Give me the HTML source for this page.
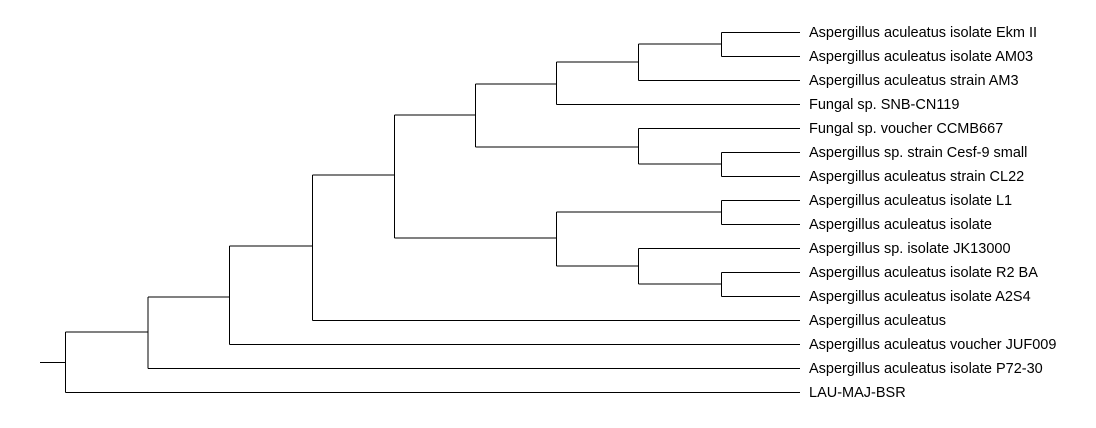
<!DOCTYPE html>
<html><head><meta charset="utf-8"><style>
html,body{margin:0;padding:0;background:#fff;}
svg{display:block}
text{font-family:"Liberation Sans",Arial,sans-serif;font-size:14.5px;fill:#000;dominant-baseline:central}
</style></head><body>
<svg width="1096" height="428" xmlns="http://www.w3.org/2000/svg">
<g stroke="#000" stroke-width="1" fill="none" shape-rendering="crispEdges">
<path d="M40,362.5H65.5 M65.5,332V392.5 M65.5,392.5H800 M65.5,332H148"/>
<path d="M148,297V368.5 M148,368.5H800 M148,297H229.5"/>
<path d="M229.5,246V344.5 M229.5,344.5H800 M229.5,246H312.5"/>
<path d="M312.5,175V320.5 M312.5,320.5H800 M312.5,175H394.5"/>
<path d="M394.5,115V238 M394.5,115H475.5 M394.5,238H556.5"/>
<path d="M475.5,84V147 M475.5,84H556.5 M475.5,147H638.5"/>
<path d="M556.5,62V104.5 M556.5,104.5H800 M556.5,62H638.5"/>
<path d="M638.5,44V80.5 M638.5,80.5H800 M638.5,44H721.5"/>
<path d="M721.5,32.5V56.5 M721.5,32.5H800 M721.5,56.5H800"/>
<path d="M638.5,128.5V164 M638.5,128.5H800 M638.5,164H721.5"/>
<path d="M721.5,152.5V176.5 M721.5,152.5H800 M721.5,176.5H800"/>
<path d="M556.5,212V266 M556.5,212H721.5 M556.5,266H638.5"/>
<path d="M721.5,200.5V224.5 M721.5,200.5H800 M721.5,224.5H800"/>
<path d="M638.5,248.5V284 M638.5,248.5H800 M638.5,284H721.5"/>
<path d="M721.5,272.5V296.5 M721.5,272.5H800 M721.5,296.5H800"/>
</g>
<g transform="translate(0,1)">
<text x="809" y="32">Aspergillus aculeatus isolate Ekm II</text>
<text x="809" y="56">Aspergillus aculeatus isolate AM03</text>
<text x="809" y="80">Aspergillus aculeatus strain AM3</text>
<text x="809" y="104">Fungal sp. SNB-CN119</text>
<text x="809" y="128">Fungal sp. voucher CCMB667</text>
<text x="809" y="152">Aspergillus sp. strain Cesf-9 small</text>
<text x="809" y="176">Aspergillus aculeatus strain CL22</text>
<text x="809" y="200">Aspergillus aculeatus isolate L1</text>
<text x="809" y="224">Aspergillus aculeatus isolate</text>
<text x="809" y="248">Aspergillus sp. isolate JK13000</text>
<text x="809" y="272">Aspergillus aculeatus isolate R2 BA</text>
<text x="809" y="296">Aspergillus aculeatus isolate A2S4</text>
<text x="809" y="320">Aspergillus aculeatus</text>
<text x="809" y="344">Aspergillus aculeatus voucher JUF009</text>
<text x="809" y="368">Aspergillus aculeatus isolate P72-30</text>
<text x="809" y="392">LAU-MAJ-BSR</text>
</g>
</svg>
</body></html>
